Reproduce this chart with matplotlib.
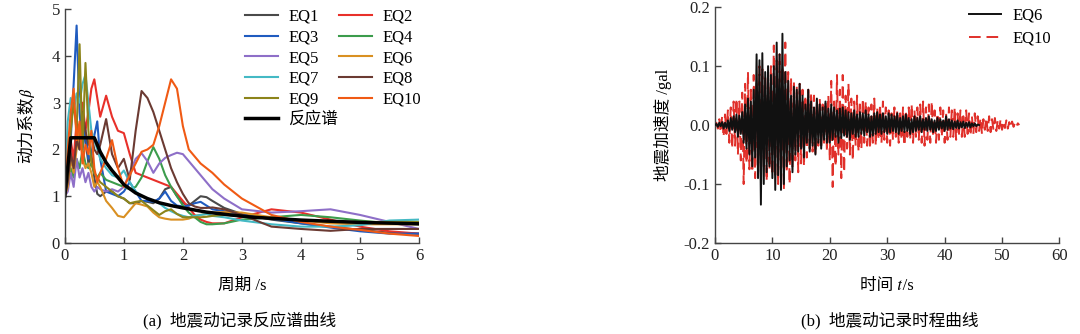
import numpy as np
import matplotlib
matplotlib.use("Agg")
import matplotlib.pyplot as plt
from matplotlib.ticker import FormatStrFormatter

# serif for latin, CJK fallback, STIX for the math-italic t and beta
plt.rcParams['font.family'] = ['Liberation Serif', 'Noto Sans CJK SC', 'STIXGeneral']
plt.rcParams['axes.unicode_minus'] = True

# ---- (a) response spectra ----
periods = [0, 0.05, 0.1, 0.15, 0.2, 0.25, 0.3, 0.35, 0.4, 0.45, 0.5, 0.55, 0.6,
           0.7, 0.8, 0.9, 1.0, 1.1, 1.2, 1.3, 1.4, 1.5, 1.6, 1.7, 1.8, 1.9, 2.0,
           2.1, 2.2, 2.3, 2.4, 2.5, 2.7, 3.0, 3.5, 4.0, 4.5, 5.0, 5.5, 6.0]

eq1 = [1.0, 1.3, 2.0, 1.6, 2.4, 2.0, 2.9, 2.2, 1.7, 1.9, 1.4, 1.05, 1.0,
       1.1, 1.1, 1.0, 0.95, 0.85, 0.85, 0.9, 0.88, 0.85, 0.95, 1.15, 1.2, 1.0, 0.85,
       0.8, 0.9, 1.0, 0.98, 0.9, 0.75, 0.62, 0.5, 0.42, 0.35, 0.28, 0.22, 0.2]
eq2 = [1.0, 1.5, 2.2, 1.8, 2.6, 2.2, 3.0, 2.4, 2.8, 3.3, 3.5, 3.1, 2.7,
       3.15, 2.7, 2.4, 2.35, 1.9, 1.5, 1.45, 1.4, 1.35, 1.3, 1.25, 1.2, 1.05, 0.9,
       0.75, 0.6, 0.5, 0.45, 0.42, 0.42, 0.55, 0.72, 0.65, 0.5, 0.35, 0.25, 0.2]
eq3 = [1.0, 1.3, 2.2, 3.4, 4.65, 2.8, 2.0, 2.4, 1.8, 1.9, 2.3, 2.6, 1.8,
       1.1, 1.05, 1.0, 1.1, 1.3, 1.1, 0.9, 0.9, 0.88, 0.95, 1.1, 0.9, 0.8, 0.78,
       0.8, 0.85, 0.88, 0.8, 0.72, 0.68, 0.6, 0.52, 0.42, 0.33, 0.25, 0.2, 0.2]
eq4 = [1.0, 1.2, 1.6, 1.4, 1.8, 1.6, 2.0, 1.7, 1.6, 1.7, 1.5, 1.4, 1.5,
       1.35, 1.3, 1.25, 1.2, 1.15, 1.2, 1.4, 1.75, 2.05, 1.8, 1.45, 1.2, 1.0, 0.8,
       0.65, 0.55, 0.45, 0.4, 0.4, 0.42, 0.5, 0.55, 0.6, 0.55, 0.48, 0.42, 0.4]
eq5 = [1.0, 1.1, 1.5, 1.2, 1.8, 1.4, 1.6, 1.3, 1.5, 1.2, 1.1, 1.2, 1.15,
       1.1, 1.15, 1.1, 1.2, 1.5, 1.8, 1.92, 1.75, 1.5, 1.7, 1.82, 1.88, 1.93, 1.9,
       1.75, 1.6, 1.45, 1.3, 1.15, 0.95, 0.72, 0.65, 0.68, 0.72, 0.6, 0.45, 0.3]
eq6 = [1.0, 1.2, 1.8, 1.5, 2.0, 2.5, 1.8, 1.6, 1.7, 1.5, 1.2, 1.3, 1.2,
       0.9, 0.75, 0.58, 0.55, 0.7, 0.85, 0.82, 0.78, 0.65, 0.55, 0.52, 0.5, 0.5, 0.5,
       0.52, 0.58, 0.6, 0.62, 0.65, 0.66, 0.65, 0.55, 0.48, 0.42, 0.4, 0.4, 0.4]
eq7 = [1.0, 2.6, 3.1, 2.8, 3.2, 3.0, 3.4, 3.6, 3.0, 2.4, 2.2, 2.0, 1.8,
       1.6, 1.45, 1.4, 1.55, 1.3, 1.1, 1.0, 0.95, 0.9, 0.85, 0.75, 0.68, 0.62, 0.58,
       0.55, 0.58, 0.6, 0.62, 0.58, 0.55, 0.48, 0.4, 0.35, 0.35, 0.38, 0.48, 0.5]
eq8 = [1.0, 1.3, 1.9, 1.6, 2.2, 2.0, 2.8, 2.4, 2.1, 2.3, 2.0, 1.9, 2.1,
       2.65, 1.9, 1.6, 1.8, 1.35, 2.4, 3.25, 3.1, 2.8, 2.4, 2.0, 1.6, 1.3, 1.05,
       0.85, 0.78, 0.75, 0.75, 0.76, 0.72, 0.6, 0.35, 0.3, 0.26, 0.3, 0.3, 0.3]
eq9 = [1.0, 1.5, 2.4, 3.0, 2.4, 4.25, 2.0, 3.85, 2.4, 1.7, 1.5, 1.4, 1.3,
       1.2, 1.1, 1.0, 0.95, 0.85, 0.88, 0.9, 0.8, 0.7, 0.6, 0.68, 0.72, 0.62, 0.55,
       0.55, 0.55, 0.55, 0.56, 0.58, 0.6, 0.58, 0.52, 0.48, 0.46, 0.45, 0.45, 0.45]
eq10 = [1.0, 2.0, 2.8, 3.3, 2.2, 2.6, 1.7, 2.1, 1.9, 2.4, 1.6, 1.3, 1.5,
        1.8, 2.2, 1.6, 1.2, 1.45, 1.7, 1.95, 2.0, 2.1, 2.5, 3.0, 3.5, 3.3, 2.5,
        2.0, 1.85, 1.7, 1.6, 1.5, 1.25, 0.95, 0.6, 0.45, 0.35, 0.28, 0.2, 0.15]

design_T = [0, 0.1, 0.5, 0.6, 0.7, 0.8, 0.9, 1.0, 1.2, 1.4, 1.6, 1.8, 2.0,
            2.4, 2.8, 3.2, 3.6, 4.0, 5.0, 6.0]
design_beta = [1.0, 2.25, 2.25, 1.95, 1.72, 1.55, 1.4, 1.25, 1.07, 0.95, 0.86,
               0.8, 0.75, 0.66, 0.6, 0.55, 0.52, 0.49, 0.44, 0.41]

eq_names = ['EQ1', 'EQ2', 'EQ3', 'EQ4', 'EQ5', 'EQ6', 'EQ7', 'EQ8', 'EQ9', 'EQ10']
eq_colors = ['#4a4a4a', '#e8302a', '#1f5bbf', '#3c9c4c', '#8e6fc8',
             '#d99022', '#44b9c4', '#6b3a32', '#8c841a', '#f05a14']
spectra = [eq1, eq2, eq3, eq4, eq5, eq6, eq7, eq8, eq9, eq10]

# ---- (b) time histories (dt = 0.25 s) ----
acc_eq6 = [
    0, 0.002, -0.003, 0.004, -0.002, 0.005, -0.006, 0.004, -0.005, 0.008, -0.01, 0.012, -0.008, 0.015, -0.012, 0.018, -0.02, 0.016, -0.015, 0.022,
    -0.03, 0.035, -0.04, 0.045, -0.05, 0.04, -0.07, 0.06, -0.055, 0.12, -0.09, 0.11, -0.135, 0.122, -0.1, 0.09, -0.08, 0.1, -0.07, 0.085,
    -0.09, 0.1, -0.11, 0.14, -0.085, 0.12, -0.11, 0.155, -0.1, 0.09, -0.07, 0.075, -0.06, 0.05, -0.08, 0.065, -0.05, 0.06, -0.045, 0.07,
    -0.04, 0.05, -0.055, 0.035, -0.03, 0.06, -0.045, 0.04, -0.035, 0.03, -0.05, 0.045, -0.03, 0.035, -0.04, 0.03, -0.025, 0.04, -0.03, 0.028,
    -0.03, 0.035, -0.025, 0.03, -0.02, 0.025, -0.03, 0.028, -0.022, 0.03, -0.018, 0.025, -0.02, 0.022, -0.025, 0.02, -0.015, 0.025, -0.02, 0.018,
    -0.02, 0.022, -0.015, 0.02, -0.018, 0.025, -0.012, 0.018, -0.02, 0.015, -0.018, 0.02, -0.015, 0.022, -0.012, 0.018, -0.015, 0.02, -0.012, 0.015,
    -0.015, 0.02, -0.012, 0.018, -0.01, 0.015, -0.012, 0.02, -0.015, 0.012, -0.01, 0.015, -0.012, 0.018, -0.01, 0.012, -0.015, 0.01, -0.012, 0.015,
    -0.01, 0.012, -0.008, 0.015, -0.012, 0.01, -0.008, 0.012, -0.01, 0.015, -0.008, 0.01, -0.012, 0.008, -0.01, 0.012, -0.008, 0.01, -0.006, 0.008,
    -0.01, 0.015, -0.008, 0.01, -0.006, 0.008, -0.007, 0.006, -0.005, 0.008, -0.006, 0.005, -0.004, 0.006, -0.005, 0.004, -0.003, 0.005, -0.004, 0.003,
    -0.002, 0.003, -0.002, 0.001, 0.0]
acc_eq10 = [
    0, 0.004, -0.006, 0.01, -0.012, 0.015, -0.02, 0.018, -0.015, 0.025, -0.03, 0.03, -0.04, 0.04, -0.035, 0.045, -0.05, 0.04, -0.06, 0.055,
    -0.1, 0.07, -0.065, 0.09, -0.075, 0.06, -0.08, 0.085, -0.09, 0.07, -0.085, 0.1, -0.08, 0.095, -0.07, 0.085, -0.095, 0.09, -0.075, 0.1,
    -0.085, 0.135, -0.09, 0.11, -0.1, 0.12, -0.095, 0.1, -0.11, 0.14, -0.08, 0.09, -0.1, 0.08, -0.07, 0.075, -0.06, 0.065, -0.08, 0.07,
    -0.065, 0.06, -0.07, 0.05, -0.055, 0.06, -0.04, 0.055, -0.045, 0.05, -0.05, 0.04, -0.035, 0.045, -0.04, 0.035, -0.03, 0.04, -0.045, 0.05,
    -0.06, 0.075, -0.105, 0.04, -0.07, 0.085, -0.05, 0.06, -0.09, 0.085, -0.08, 0.05, -0.04, 0.07, -0.05, 0.045, -0.06, 0.04, -0.035, 0.05,
    -0.045, 0.035, -0.04, 0.045, -0.03, 0.04, -0.035, 0.03, -0.04, 0.035, -0.03, 0.045, -0.035, 0.03, -0.025, 0.035, -0.03, 0.04, -0.025, 0.03,
    -0.03, 0.025, -0.035, 0.02, -0.025, 0.03, -0.02, 0.025, -0.03, 0.02, -0.025, 0.03, -0.035, 0.025, -0.02, 0.03, -0.025, 0.035, -0.03, 0.025,
    -0.02, 0.03, -0.025, 0.035, -0.03, 0.04, -0.035, 0.03, -0.025, 0.035, -0.03, 0.04, -0.02, 0.025, -0.03, 0.02, -0.025, 0.03, -0.02, 0.025,
    -0.03, 0.02, -0.025, 0.03, -0.02, 0.025, -0.02, 0.03, -0.025, 0.02, -0.015, 0.025, -0.02, 0.015, -0.02, 0.025, -0.015, 0.02, -0.018, 0.015,
    -0.015, 0.02, -0.012, 0.015, -0.01, 0.012, -0.015, 0.01, -0.008, 0.012, -0.01, 0.015, -0.012, 0.01, -0.008, 0.012, -0.01, 0.008, -0.006, 0.01,
    -0.008, 0.006, -0.005, 0.008, -0.006, 0.005, -0.004, 0.006, -0.003, 0.004, -0.002, 0.003, 0.0]
dt = 0.25
t_eq6 = np.arange(len(acc_eq6)) * dt
t_eq10 = np.arange(len(acc_eq10)) * dt

axis_color = '#444444'
fs = 12

fig = plt.figure(figsize=(10.8, 3.34), dpi=100)
ax1 = fig.add_axes([0.060, 0.2725, 0.328, 0.70])
ax2 = fig.add_axes([0.662, 0.2725, 0.319, 0.706])


def style(ax):
    for s in ['top', 'right']:
        ax.spines[s].set_visible(False)
    for s in ['left', 'bottom']:
        ax.spines[s].set_color(axis_color)
        ax.spines[s].set_linewidth(1.0)
    ax.tick_params(direction='in', length=4, width=1.0, color=axis_color,
                   labelsize=fs, labelcolor='#222222')


lines = {}
for name, col, vals in zip(eq_names, eq_colors, spectra):
    lines[name], = ax1.plot(periods, vals, color=col, lw=1.5)
lines['反应谱'], = ax1.plot(design_T, design_beta, color='black', lw=2.5)

order = ['EQ1', 'EQ3', 'EQ5', 'EQ7', 'EQ9', '反应谱', 'EQ2', 'EQ4', 'EQ6', 'EQ8', 'EQ10']
ax1.legend([lines[k] for k in order], order, ncol=2, frameon=False, fontsize=fs,
           loc='upper left', bbox_to_anchor=(0.49, 1.03), handlelength=2.0,
           labelspacing=0.28, columnspacing=0.05, handletextpad=0.6,
           borderaxespad=0)
ax1.set_xlim(0, 6)
ax1.set_ylim(0, 5)
ax1.set_xticks(range(7))
ax1.set_yticks(range(6))
style(ax1)
ax1.set_xlabel('周期 /s', fontsize=fs, labelpad=10)
ax1.set_ylabel('动力系数\U0001D6FD', fontsize=fs, labelpad=12)

ax2.plot(t_eq6, acc_eq6, color='#111111', lw=1.4, label='EQ6', zorder=3)
ax2.plot(t_eq10, acc_eq10, color='#e0302a', lw=1.4, ls=(0, (6, 3)), label='EQ10', zorder=2)
ax2.legend(frameon=False, fontsize=fs, loc='upper left',
           bbox_to_anchor=(0.718, 1.025), handlelength=1.9, labelspacing=0.4,
           handletextpad=0.7, borderaxespad=0)
ax2.set_xlim(0, 60)
ax2.set_ylim(-0.2, 0.2)
ax2.set_xticks(range(0, 61, 10))
ax2.set_yticks([-0.2, -0.1, 0.0, 0.1, 0.2])
ax2.yaxis.set_major_formatter(FormatStrFormatter('%.1f'))
style(ax2)
ax2.set_xlabel('时间 \U0001D461/s', fontsize=fs, labelpad=10)
ax2.set_ylabel('地震加速度 /gal', fontsize=fs, labelpad=8)

fig.text(0.222, 0.04, '(a)  地震动记录反应谱曲线', ha='center', va='center', fontsize=fs)
fig.text(0.824, 0.04, '(b)  地震动记录时程曲线', ha='center', va='center', fontsize=fs)

fig.savefig('out.png', dpi=100)
